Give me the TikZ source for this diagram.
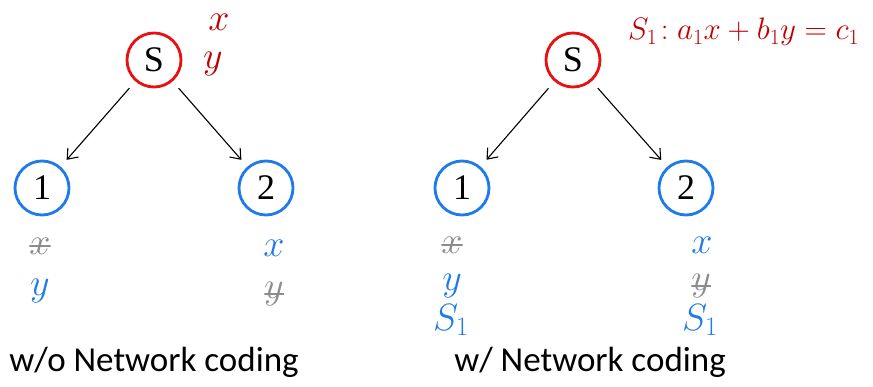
\RequirePackage{fix-cm}
\documentclass[tikz,border=0pt]{standalone}
\usepackage{fontspec}
\setmainfont{Liberation Serif}
\newfontfamily\capfont{Carlito}
\usetikzlibrary{arrows.meta}
\definecolor{srcred}{HTML}{E81010}
\definecolor{labred}{HTML}{C00000}
\definecolor{rxblue}{HTML}{1F7BEA}
\definecolor{lostgray}{HTML}{8C8C8C}
\newcommand{\stationlabel}[1]{\fontsize{36}{38}\selectfont #1}
\tikzset{
  station/.style={circle, line width=2.8pt, minimum size=54pt, inner sep=0pt},
  src/.style={station, draw=srcred},
  rx/.style={station, draw=rxblue},
  link/.style={-{Straight Barb[length=9pt,width=14pt]}, line width=1.1pt, shorten <=9pt, shorten >=9pt},
  sym/.style={inner sep=0pt, font=\fontsize{38}{40}\selectfont},
  got/.style={sym, text=rxblue},
  sent/.style={sym, text=labred},
  lost/.style={sym, text=lostgray, path picture={\draw[lostgray, line width=1.3pt] ([xshift=-1pt]path picture bounding box.west) -- ([xshift=1pt]path picture bounding box.east);}},
  caption/.style={font=\capfont\fontsize{35}{37}\selectfont}
}
\begin{document}
\begin{tikzpicture}[x=1pt,y=-1pt]
\useasboundingbox (0,0) rectangle (873,386);

% without network coding
\node[src] (sA) at (154,60) {\stationlabel{S}};
\node[rx] (a1) at (42,188) {\stationlabel{1}};
\node[rx] (a2) at (266,188) {\stationlabel{2}};
\draw[link] (sA) -- (a1);
\draw[link] (sA) -- (a2);
\node[sent] (ax) at (219,22) {$x$};
\node[sent] (ay) at (213,64) {$y$};
\node[lost] (a1x) at (40,246) {$x$};
\node[got] (a1y) at (40,291) {$y$};
\node[got] (a2x) at (274,248) {$x$};
\node[lost] (a2y) at (274,294) {$y$};
\node[caption] (capA) at (154,362) {w/o Network coding};

% with network coding
\node[src] (sB) at (573,60) {\stationlabel{S}};
\node[rx] (b1) at (462,188) {\stationlabel{1}};
\node[rx] (b2) at (686,188) {\stationlabel{2}};
\draw[link] (sB) -- (b1);
\draw[link] (sB) -- (b2);
\node[sent, anchor=west, font=\fontsize{31}{33}\selectfont] (eq) at (628,32) {$S_1\!: a_1x+b_1y=c_1$};
\node[lost] (b1x) at (452,245) {$x$};
\node[got] (b1y) at (452,286) {$y$};
\node[got] (b1s) at (451,320) {$S_1$};
\node[got] (b2x) at (702,245) {$x$};
\node[lost] (b2y) at (701,286) {$y$};
\node[got] (b2s) at (700,320) {$S_1$};
\node[caption] (capB) at (590,362) {w/ Network coding};
\end{tikzpicture}
\end{document}
